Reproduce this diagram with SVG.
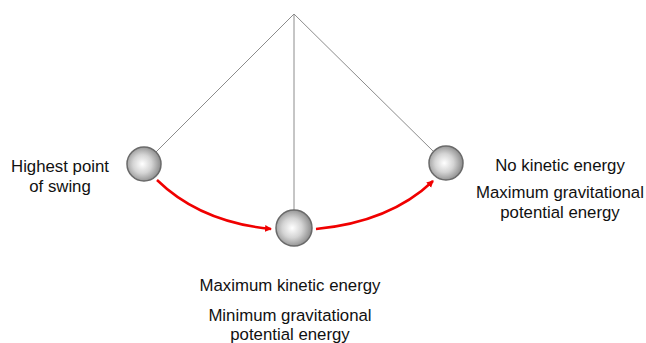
<svg xmlns="http://www.w3.org/2000/svg" width="646" height="343" viewBox="0 0 646 343">
<style>
.str{stroke:#8c8c8c;stroke-width:1;fill:none}
.arr{stroke:#f00000;stroke-width:2.5;fill:none;marker-end:url(#ah)}
.ball{fill:url(#bg);stroke:#6a6a6a;stroke-width:1.5}
text{font-family:"Liberation Sans",Arial,sans-serif;font-size:16.8px;fill:#111;text-anchor:middle}
</style>
<defs>
<radialGradient id="bg" cx="0.45" cy="0.5" r="0.55">
<stop offset="0" stop-color="#ffffff"/>
<stop offset="0.5" stop-color="#d4d4d4"/>
<stop offset="1" stop-color="#8a8a8a"/>
</radialGradient>
<marker id="ah" markerWidth="8" markerHeight="8" refX="6" refY="4" orient="auto" markerUnits="userSpaceOnUse">
<path d="M0,0.5 L7,4 L0,7.5 Z" fill="#f00000"/>
</marker>
</defs>
<g id="strings">
<line class="str" x1="294" y1="14" x2="156" y2="152"/>
<line class="str" x1="294" y1="14" x2="294" y2="210"/>
<line class="str" x1="294" y1="14" x2="434" y2="152"/>
</g>
<g id="connectors">
<path class="arr" d="M157,180 Q200,222 271,229"/>
<path class="arr" d="M316,229 Q390,222 433,181"/>
</g>
<g id="ball-left"><circle class="ball" cx="144" cy="164" r="17"/></g>
<g id="ball-middle"><circle class="ball" cx="294" cy="228" r="18"/></g>
<g id="ball-right"><circle class="ball" cx="446" cy="163" r="17"/></g>
<g id="label-left">
<text x="60" y="172">Highest point</text>
<text x="60" y="192">of swing</text>
</g>
<g id="label-right">
<text x="560" y="171">No kinetic energy</text>
<text x="560" y="198">Maximum gravitational</text>
<text x="560" y="218">potential energy</text>
</g>
<g id="label-bottom">
<text x="290" y="291">Maximum kinetic energy</text>
<text x="290" y="321">Minimum gravitational</text>
<text x="290" y="340">potential energy</text>
</g>
</svg>
